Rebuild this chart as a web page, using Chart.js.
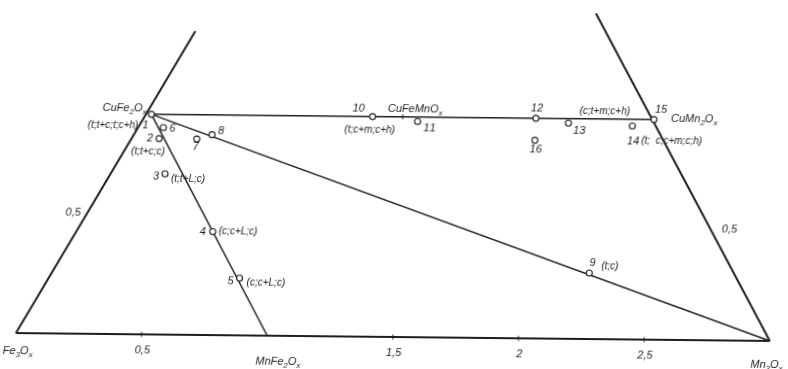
<!DOCTYPE html>
<html lang="en">
<head>
<meta charset="UTF-8">
<title>CuFe2Ox - Fe3Ox - Mn3Ox</title>
<script src="https://cdn.jsdelivr.net/npm/chart.js"></script>
<style>
  html, body { margin: 0; padding: 0; background: #fff; overflow: hidden; }
  #wrap { width: 788px; height: 369px; transform: rotate(0.6deg); }
</style>
</head>
<body>
<div id="wrap"><canvas id="diagram"></canvas></div>
<script>
// cations per formula unit, Cu + Mn + Fe = 3
const sampleNames = ['1', '2', '3', '4', '5', '6', '7', '8', '9', '10', '11', '12', '13', '14', '15', '16'];
const sampleCu = [1.00, 0.89, 0.73, 0.47, 0.26, 0.94, 0.89, 0.91, 0.30, 1.00, 0.98, 1.00, 0.98, 0.97, 1.00, 0.90];
const sampleMn = [0.00, 0.09, 0.20, 0.53, 0.75, 0.08, 0.24, 0.29, 2.12, 0.88, 1.07, 1.53, 1.67, 1.93, 2.00, 1.58];

// phase assemblages written beside some samples
const phaseNotes = ['(t;t+c;t;c+h)', '(t;t+c;c)', '(t;t+L;c)', '(c;c+L;c)', '(c;c+L;c)', '(t;c)', '(t;c+m;c+h)', '(c;t+m;c+h)', '(t;  c;c+m;c;h)'];
const phaseNoteSample = [0, 1, 2, 3, 4, 8, 9, 12, 13];

// compounds named on the diagram
const compoundNames = ['Fe_3O_x', 'MnFe_2O_x', 'Mn_3O_x', 'CuFe_2O_x', 'CuFeMnO_x', 'CuMn_2O_x'];
const compoundCu = [0, 0, 0, 1, 1, 1];
const compoundMn = [0, 1, 3, 0, 1, 2];

// ticks along the Fe3Ox - Mn3Ox edge and on both sides
const baseTicks = [0.5, 1.5, 2, 2.5];
const baseTickLabels = ['0,5', '1,5', '2', '2,5'];
const sideTickLabels = ['0,5', '0,5'];
const sideTickCu = [0.5, 0.5];
const sideTickMn = [0, 2.5];

// drawn lines: triangle edges (cut off at the top of the sheet) and joins
const lineFromCu = [0, 0, 0, 1, 1, 1];
const lineFromMn = [0, 0, 3, 0, 0, 0];
const lineToCu = [0, 1.38, 1.48, 1, 0, 0];
const lineToMn = [3, -0.03, 1.51, 2, 1, 3];

// the scanned triangle is a bit sheared
const SHEAR = 0.53, RISE = 0.876;
const toX = (cu, mn) => mn + SHEAR * cu;
const toY = cu => RISE * cu;

const ink = '#1e1e1e';
const lineWidths = [2, 2, 2, 1.5, 1.5, 1.5];

const lineSets = lineFromCu.map((c, i) => ({
  data: [{ x: toX(c, lineFromMn[i]), y: toY(c) }, { x: toX(lineToCu[i], lineToMn[i]), y: toY(lineToCu[i]) }],
  showLine: true, borderColor: ink, borderWidth: lineWidths[i], pointRadius: 0
}));

const samplePoints = sampleCu.map((c, i) => ({ x: toX(c, sampleMn[i]), y: toY(c) }));

const tickPoints = baseTicks.map(m => ({ x: toX(0, m), y: 0 }))
  .concat([{ x: toX(1, 1), y: toY(1) }]);

// label placement (pixel offsets from the anchor)
const sampleLabelPos = [[-6, 11], [-9, 0], [-9, 3], [-10, 0], [-9, 3], [9, 1], [-1, 8], [9, -4], [3, -10],
  [-14, -8], [12, 7], [1, -10], [11, 8], [1, 15], [7, -10], [1, 9]];
const phaseNotePos = [[-13, 11, 'right'], [-11, 13, 'center'], [6, 5, 'left'], [6, 0, 'left'], [7, 4, 'left'],
  [12, -7, 'left'], [-28, 13, 'left'], [11, -12, 'left'], [9, 15, 'left']];
const compoundPos = [[2, 18, 'center'], [11, 26, 'center'], [-3, 24, 'center'], [-5, -6, 'right'], [-15, -8, 'left'], [17, -1, 'left']];
const sidePos = [[-3, -11, 'right'], [10, -1, 'left']];

function drawRich(ctx, text, x, y, align, size) {
  const parts = [];
  for (let i = 0; i < text.length; i++) {
    if (text[i] === '_') { parts.push({ s: text[i + 1], sub: true }); i++; }
    else parts.push({ s: text[i], sub: false });
  }
  const main = 'italic ' + size + 'px "Liberation Sans", sans-serif';
  const small = 'italic ' + Math.round(size * 0.72) + 'px "Liberation Sans", sans-serif';
  let w = 0;
  parts.forEach(p => { ctx.font = p.sub ? small : main; p.w = ctx.measureText(p.s).width; w += p.w; });
  let cx = align === 'left' ? x : align === 'right' ? x - w : x - w / 2;
  parts.forEach(p => {
    ctx.font = p.sub ? small : main;
    ctx.fillText(p.s, cx, p.sub ? y + size * 0.32 : y);
    cx += p.w;
  });
}

const labelPlugin = {
  id: 'labels',
  afterDatasetsDraw(chart) {
    const ctx = chart.ctx, sx = chart.scales.x, sy = chart.scales.y;
    const px = (cu, mn) => [sx.getPixelForValue(toX(cu, mn)), sy.getPixelForValue(toY(cu))];
    ctx.save();
    ctx.fillStyle = ink;
    ctx.textBaseline = 'middle';
    sampleNames.forEach((n, i) => {
      const [x, y] = px(sampleCu[i], sampleMn[i]);
      drawRich(ctx, n, x + sampleLabelPos[i][0], y + sampleLabelPos[i][1], 'center', 11);
    });
    phaseNotes.forEach((t, i) => {
      const k = phaseNoteSample[i];
      const [x, y] = px(sampleCu[k], sampleMn[k]);
      const p = phaseNotePos[i];
      drawRich(ctx, t, x + p[0], y + p[1], p[2], 10);
    });
    compoundNames.forEach((t, i) => {
      const [x, y] = px(compoundCu[i], compoundMn[i]);
      const p = compoundPos[i];
      drawRich(ctx, t, x + p[0], y + p[1], p[2], 11);
    });
    baseTicks.forEach((m, i) => {
      const [x, y] = px(0, m);
      drawRich(ctx, baseTickLabels[i], x + 1, y + 16, 'center', 11);
    });
    sideTickLabels.forEach((t, i) => {
      const [x, y] = px(sideTickCu[i], sideTickMn[i]);
      drawRich(ctx, t, x + sidePos[i][0], y + sidePos[i][1], sidePos[i][2], 11);
    });
    ctx.restore();
  }
};

new Chart(document.getElementById('diagram'), {
  type: 'scatter',
  data: {
    datasets: [
      { data: samplePoints, pointRadius: 3, pointBorderWidth: 1.1, pointBorderColor: ink, pointBackgroundColor: '#fff' },
      { data: tickPoints, pointStyle: 'line', pointRotation: 90, pointRadius: 2.5, pointBorderWidth: 1, pointBorderColor: ink }
    ].concat(lineSets)
  },
  options: {
    responsive: true,
    maintainAspectRatio: false,
    animation: false,
    layout: { padding: 0, autoPadding: false },
    plugins: { legend: { display: false }, tooltip: { enabled: false } },
    scales: {
      x: { type: 'linear', display: false, min: -0.0696, max: 3.066 },
      y: { type: 'linear', display: false, min: -0.1273, max: 1.341 }
    }
  },
  plugins: [labelPlugin]
});
</script>
</body>
</html>
